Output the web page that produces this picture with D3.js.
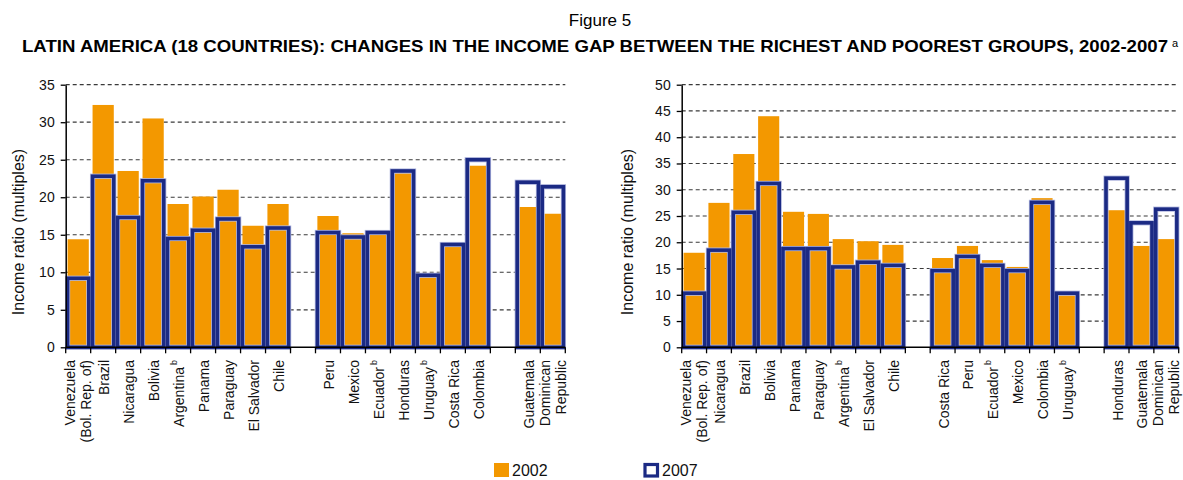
<!DOCTYPE html>
<html>
<head>
<meta charset="utf-8">
<script src="https://cdn.jsdelivr.net/npm/d3@7"></script>
<style>
  html, body { margin: 0; padding: 0; background: #fff; }
  svg { display: block; font-family: "Liberation Sans", Arial, sans-serif; }
</style>
</head>
<body>
<svg id="chart" width="1183" height="480"></svg>
<script>
// Category labels: each entry is a list of lines; null marks an empty spacer slot.
const leftCategories = [
  ["Venezuela", "(Bol. Rep. of)"], ["Brazil"], ["Nicaragua"], ["Bolivia"], ["Argentina"],
  ["Panama"], ["Paraguay"], ["El Salvador"], ["Chile"], null,
  ["Peru"], ["Mexico"], ["Ecuador"], ["Honduras"], ["Uruguay"], ["Costa Rica"], ["Colombia"], null,
  ["Guatemala"], ["Dominican", "Republic"]
];
const leftFootnotes = [
  "", "", "", "", "b", "", "", "", "", "",
  "", "", "b", "", "b", "", "", "",
  "", ""
];
const left2002 = [14.4, 32.3, 23.5, 30.5, 19.1, 20.1, 21.0, 16.2, 19.1, null,
                  17.5, 15.2, 15.0, 23.2, 9.4, 13.5, 24.2, null, 18.7, 17.8];
const left2007 = [9.2, 22.8, 17.3, 22.2, 14.5, 15.6, 17.1, 13.4, 15.9, null,
                  15.3, 14.7, 15.3, 23.5, 9.6, 13.7, 25.0, null, 22.0, 21.4];
const leftTicks = [0, 5, 10, 15, 20, 25, 30, 35];

const rightCategories = [
  ["Venezuela", "(Bol. Rep. of)"], ["Nicaragua"], ["Brazil"], ["Bolivia"], ["Panama"],
  ["Paraguay"], ["Argentina"], ["El Salvador"], ["Chile"], null,
  ["Costa Rica"], ["Peru"], ["Ecuador"], ["Mexico"], ["Colombia"], ["Uruguay"], null,
  ["Honduras"], ["Guatemala"], ["Dominican", "Republic"]
];
const rightFootnotes = [
  "", "", "", "", "", "", "b", "", "", "",
  "", "", "b", "", "", "b", "",
  "", "", ""
];
const right2002 = [18.0, 27.5, 36.8, 44.0, 25.8, 25.4, 20.6, 20.2, 19.5, null,
                   17.0, 19.3, 16.6, 15.3, 28.4, 10.1, null, 26.1, 19.3, 20.6];
const right2007 = [10.3, 18.5, 25.7, 31.2, 18.8, 18.8, 15.3, 16.2, 15.6, null,
                   14.6, 17.3, 15.6, 14.6, 27.6, 10.3, null, 32.2, 23.7, 26.3];
const rightTicks = [0, 5, 10, 15, 20, 25, 30, 35, 40, 45, 50];

const seriesNames = ["2002", "2007"];
const titleText = "LATIN AMERICA (18 COUNTRIES): CHANGES IN THE INCOME GAP BETWEEN THE RICHEST AND POOREST GROUPS, 2002-2007";
const figureText = "Figure 5";
const yTitle = "Income ratio (multiples)";

const ORANGE = "#F39800";
const NAVY = "#1B2A84";
const HALO = "#B4BAE0";

const svg = d3.select("#chart");

// Headings
svg.append("text")
  .attr("x", 600).attr("y", 26)
  .attr("text-anchor", "middle")
  .attr("font-size", 17)
  .text(figureText);

svg.append("text")
  .attr("x", 22).attr("y", 52)
  .attr("font-size", 16.5).attr("font-weight", "bold")
  .attr("textLength", 1146).attr("lengthAdjust", "spacingAndGlyphs")
  .text(titleText);
svg.append("text")
  .attr("x", 1172).attr("y", 47)
  .attr("font-size", 11)
  .text("a");

function drawPanel(opts) {
  const { x0, x1, yTop, yBottom, maxV, ticks, cats, notes, v2002, v2007, titleX } = opts;
  const g = svg.append("g");
  const idx = d3.range(cats.length);

  const x = d3.scaleBand().domain(idx).range([x0, x1])
    .paddingInner(0.15).paddingOuter(0.075);
  const y = d3.scaleLinear().domain([0, maxV]).range([yBottom, yTop]);
  const step = x.step();

  // dashed gridlines
  g.append("g").selectAll("line")
    .data(ticks.filter(t => t > 0))
    .join("line")
    .attr("x1", x0).attr("x2", x1)
    .attr("y1", d => y(d)).attr("y2", d => y(d))
    .attr("stroke", "#3a3a3a").attr("stroke-width", 1.2)
    .attr("stroke-dasharray", "4,3");

  // 2002 filled bars
  g.append("g").selectAll("rect")
    .data(idx.filter(i => v2002[i] != null))
    .join("rect")
    .attr("x", i => x(i)).attr("width", x.bandwidth())
    .attr("y", i => y(v2002[i])).attr("height", i => y(0) - y(v2002[i]))
    .attr("fill", ORANGE);

  // 2007 outlined bars (soft halo under a navy border)
  const outl = idx.filter(i => v2007[i] != null);
  g.append("g").selectAll("rect")
    .data(outl)
    .join("rect")
    .attr("x", i => x(i)).attr("width", x.bandwidth())
    .attr("y", i => y(v2007[i])).attr("height", i => y(0) - y(v2007[i]))
    .attr("fill", "none").attr("stroke", HALO).attr("stroke-width", 5.2);
  g.append("g").selectAll("rect")
    .data(outl)
    .join("rect")
    .attr("x", i => x(i)).attr("width", x.bandwidth())
    .attr("y", i => y(v2007[i])).attr("height", i => y(0) - y(v2007[i]))
    .attr("fill", "none").attr("stroke", NAVY).attr("stroke-width", 3.6);

  // y axis
  const yAxis = d3.axisLeft(y).tickValues(ticks).tickSize(5).tickPadding(6).tickSizeOuter(0);
  const ya = g.append("g").attr("transform", `translate(${x0},0)`).call(yAxis);
  ya.select(".domain").attr("stroke", "#000").attr("stroke-width", 1.5);
  ya.selectAll(".tick line").attr("stroke", "#000").attr("stroke-width", 1.3);
  ya.selectAll(".tick text").attr("font-size", 14).attr("fill", "#111")
    .attr("font-family", "Liberation Sans, Arial, sans-serif");

  // x axis line with ticks at slot boundaries
  g.append("line")
    .attr("x1", x0).attr("x2", x1)
    .attr("y1", y(0)).attr("y2", y(0))
    .attr("stroke", "#000").attr("stroke-width", 1.5);
  g.append("g").selectAll("line")
    .data(d3.range(cats.length + 1))
    .join("line")
    .attr("x1", i => x0 + i * step).attr("x2", i => x0 + i * step)
    .attr("y1", y(0)).attr("y2", y(0) + 6)
    .attr("stroke", "#000").attr("stroke-width", 1.3);

  // rotated category labels
  const lab = g.append("g").selectAll("g")
    .data(idx.filter(i => cats[i] != null))
    .join("g")
    .attr("transform", i => `translate(${x(i) + x.bandwidth() / 2},360) rotate(-90)`);
  lab.each(function (i) {
    const lines = cats[i];
    const n = lines.length;
    lines.forEach((ln, k) => {
      const t = d3.select(this).append("text")
        .attr("x", 0)
        .attr("y", n === 1 ? 1 : (k - (n - 1) / 2) * 16)
        .attr("text-anchor", "end")
        .attr("dominant-baseline", "central")
        .attr("font-size", 14)
        .attr("fill", "#111");
      t.append("tspan").text(ln);
      if (k === n - 1 && notes[i]) {
        t.append("tspan").attr("font-size", 9).attr("dx", 2).attr("dy", -5).text(notes[i]);
      }
    });
  });

  // y axis title
  svg.append("text")
    .attr("transform", `translate(${titleX},232) rotate(-90)`)
    .attr("text-anchor", "middle")
    .attr("dominant-baseline", "central")
    .attr("font-size", 16)
    .attr("fill", "#111")
    .text(yTitle);
}

drawPanel({
  x0: 65.7, x1: 565.3, yTop: 84.7, yBottom: 347.3, maxV: 35, ticks: leftTicks,
  cats: leftCategories, notes: leftFootnotes, v2002: left2002, v2007: left2007, titleX: 18
});
drawPanel({
  x0: 681.7, x1: 1178.7, yTop: 84.7, yBottom: 347.3, maxV: 50, ticks: rightTicks,
  cats: rightCategories, notes: rightFootnotes, v2002: right2002, v2007: right2007, titleX: 627
});

// Legend
const legend = svg.append("g");
legend.append("rect").attr("x", 494).attr("y", 463).attr("width", 15).attr("height", 14)
  .attr("fill", ORANGE);
legend.append("text").attr("x", 512).attr("y", 476).attr("font-size", 16).attr("fill", "#111")
  .text(seriesNames[0]);
legend.append("rect").attr("x", 645).attr("y", 464.5).attr("width", 12.5).attr("height", 11.5)
  .attr("fill", "#fff").attr("stroke", NAVY).attr("stroke-width", 3.2);
legend.append("text").attr("x", 662).attr("y", 476).attr("font-size", 16).attr("fill", "#111")
  .text(seriesNames[1]);
</script>
</body>
</html>
